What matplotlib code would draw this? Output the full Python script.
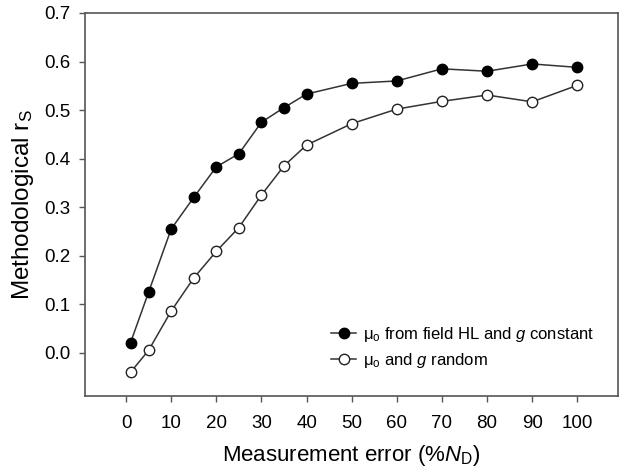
import numpy as np
import matplotlib
matplotlib.use("Agg")
import matplotlib.pyplot as plt

plt.rcParams['font.family'] = ['Liberation Sans', 'DejaVu Sans']
plt.rcParams['mathtext.fontset'] = 'custom'
plt.rcParams['mathtext.rm'] = 'Liberation Sans'
plt.rcParams['mathtext.it'] = 'Liberation Sans:italic'

# measurement error (%N_D)
err = [1, 5, 10, 15, 20, 25, 30, 35, 40, 50, 60, 70, 80, 90, 100]
# mu_o from field HL and g constant
rs_const = [0.021, 0.125, 0.255, 0.320, 0.383, 0.410, 0.475, 0.505, 0.533,
            0.555, 0.560, 0.585, 0.580, 0.595, 0.588]
# mu_o and g random
rs_random = [-0.040, 0.005, 0.086, 0.154, 0.209, 0.258, 0.325, 0.385, 0.428,
             0.472, 0.502, 0.518, 0.531, 0.517, 0.551]

xticks = [0, 10, 20, 30, 40, 50, 60, 70, 80, 90, 100]
yticks = [0.0, 0.1, 0.2, 0.3, 0.4, 0.5, 0.6, 0.7]

fig = plt.figure(figsize=(6.19, 4.69), dpi=100)
ax = fig.add_axes([0.1373, 0.1557, 0.861, 0.8166])

ax.plot(err, rs_const, '-o', color='#333333', lw=1.1, ms=7.5,
        mfc='black', mec='black', mew=1,
        label='μ$_{\\rm o}$ from field HL and $g$ constant')
ax.plot(err, rs_random, '-o', color='#333333', lw=1.1, ms=7.5,
        mfc='white', mec='#222222', mew=1,
        label='μ$_{\\rm o}$ and $g$ random')

ax.set_xlim(-9.1, 109)
ax.set_ylim(-0.089, 0.7)
ax.set_xticks(xticks)
ax.set_yticks(yticks)
ax.set_yticklabels(['%.1f' % v for v in yticks])
ax.tick_params(direction='out', length=4.5, width=1, color='#555555',
               labelsize=13.5, top=False, right=False)
ax.tick_params(axis='x', pad=9)
ax.tick_params(axis='y', pad=6)
for s in ax.spines.values():
    s.set_color('#555555')
    s.set_linewidth(1.2)

ax.set_xlabel(r'Measurement error (%$N_{\rm D}$)', fontsize=16, labelpad=8)
ax.set_ylabel(r'Methodological r$_{\rm S}$', fontsize=17.5, labelpad=6)

ax.legend(loc='upper left', bbox_to_anchor=(0.44, 0.215), frameon=False,
          fontsize=12, handlelength=1.5, handletextpad=0.4,
          labelspacing=0.4, borderpad=0.2)

fig.savefig('out.png', dpi=100)
